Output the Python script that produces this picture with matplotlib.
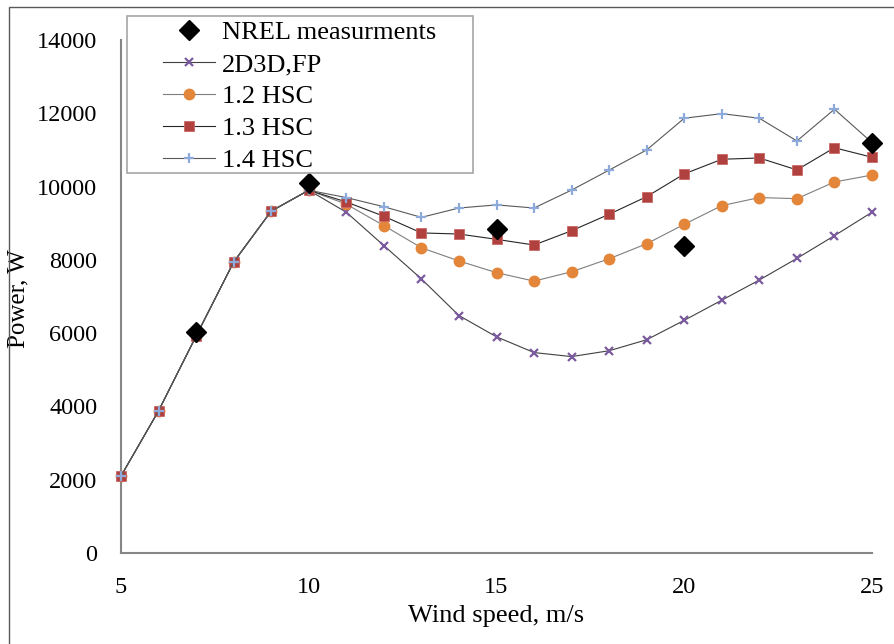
import matplotlib

matplotlib.use("Agg")
import matplotlib.pyplot as plt
from matplotlib.patches import Rectangle

plt.rcParams["font.family"] = ["Liberation Serif", "DejaVu Serif"]

wind_speed = list(range(5, 26))

# measured points (only a few speeds)
nrel_speed = [7, 10, 15, 20, 25]
nrel_power = [6030, 10100, 8830, 8370, 11180]

common = [2100, 3880, 5920, 7940, 9330, 9900]
fp_2d3d = common + [9300, 8390, 7480, 6480, 5900, 5470, 5360, 5520, 5820, 6350,
                    6900, 7450, 8040, 8660, 9300]
hsc_12 = common + [9520, 8935, 8330, 7970, 7650, 7420, 7675, 8030, 8440, 8970,
                   9480, 9700, 9670, 10125, 10315]
hsc_13 = common + [9580, 9190, 8735, 8705, 8560, 8405, 8795, 9245, 9725, 10345,
                   10745, 10780, 10455, 11060, 10800]
hsc_14 = common + [9700, 9450, 9160, 9415, 9500, 9415, 9905, 10450, 11000, 11865,
                   11990, 11865, 11245, 12110, 11200]

labels = ["NREL measurments", "2D3D,FP", "1.2 HSC", "1.3 HSC", "1.4 HSC"]
x_ticks = [5, 10, 15, 20, 25]
y_ticks = list(range(0, 14001, 2000))

W, H = 895, 644
fig = plt.figure(figsize=(W / 100, H / 100), dpi=100)
ax = fig.add_axes([121 / W, 1 - 553 / H, 751 / W, 513 / H])

ax.plot(nrel_speed, nrel_power, linestyle="none", marker="D", ms=10,
        color="black", label=labels[0], clip_on=False, zorder=8)
ax.plot(wind_speed, fp_2d3d, color="#404040", lw=0.8, marker="x", ms=6, mew=1.6,
        mec="#7A5C9E", label=labels[1], clip_on=False, zorder=4)
ax.plot(wind_speed, hsc_12, color="#7F7F7F", lw=0.8, marker="o", ms=7.5,
        mfc="#E4863A", mec="#E4863A", label=labels[2], clip_on=False, zorder=5)
ax.plot(wind_speed, hsc_13, color="#262626", lw=0.8, marker="s", ms=7.2,
        mfc="#B0413E", mec="#C86A68", mew=0.6, label=labels[3], clip_on=False, zorder=6)
ax.plot(wind_speed, hsc_14, color="#595959", lw=0.8, marker="+", ms=7, mew=1.6,
        mec="#8EAADB", label=labels[4], clip_on=False, zorder=7)

ax.set_xlim(5, 25)
ax.set_ylim(0, 14000)
ax.set_xticks(x_ticks)
ax.set_yticks(y_ticks)
ax.tick_params(length=0, labelsize=17.5, pad=17)
for side in ["top", "right"]:
    ax.spines[side].set_visible(False)
for side in ["left", "bottom"]:
    ax.spines[side].set_color("#868686")
    ax.spines[side].set_linewidth(1.5)

ax.set_xlabel("Wind speed, m/s", fontsize=19, labelpad=5)
ax.set_ylabel("Power, W", fontsize=18)
ax.yaxis.set_label_coords((29 - 121) / 751, (553 - 299) / 513)

leg = fig.legend(loc="upper left", bbox_to_anchor=(163 / W, 1 - 21 / H),
                 frameon=False, fontsize=19, borderpad=0, borderaxespad=0,
                 handlelength=1.97, handletextpad=0.27, labelspacing=0.32)

# legend frame and outer chart border
fig.add_artist(Rectangle((127 / W, 1 - 173 / H), 346 / W, 157 / H,
                         transform=fig.transFigure, fill=False,
                         ec="#A6A6A6", lw=1.2, zorder=10))
fig.add_artist(Rectangle((9.5 / W, -0.1), 1.2, 1.1 - 7 / H,
                         transform=fig.transFigure, fill=False,
                         ec="#595959", lw=1.0, zorder=10))

fig.savefig("out.png", dpi=100)
